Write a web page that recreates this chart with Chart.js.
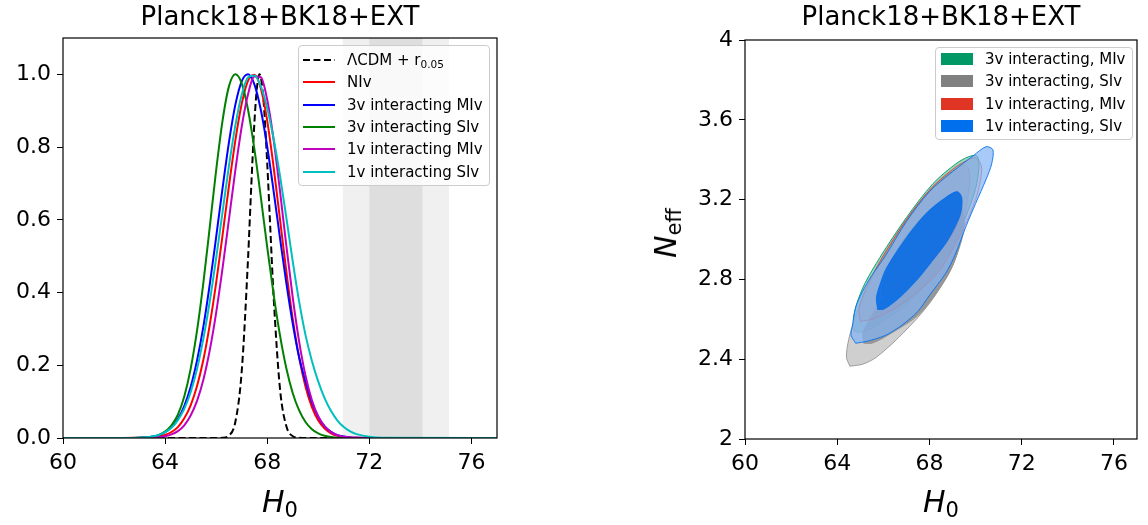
<!DOCTYPE html>
<html>
<head>
<meta charset="utf-8">
<script src="https://cdn.jsdelivr.net/npm/chart.js@4.4.1/dist/chart.umd.min.js"></script>
<style>
  body { margin: 0; background: #fff; font-family: 'DejaVu Sans', sans-serif; color: #000; }
  #page { position: relative; width: 1148px; height: 525px; overflow: hidden; }
  canvas { position: absolute; top: 0; }
  #pdfChart { left: 0; }
  #contourChart { left: 560px; }
  .title { position: absolute; top: 3px; font-size: 26px; line-height: 26px; text-align: center; white-space: nowrap; }
  .xlabel { position: absolute; top: 487px; font-size: 30px; line-height: 30px; text-align: center; white-space: nowrap; }
  .ylabel { position: absolute; left: 666px; top: 233px; font-size: 30px; line-height: 30px; white-space: nowrap;
            transform: translate(-50%, -50%) rotate(-90deg); }
  sub { font-size: 0.7em; vertical-align: -0.25em; line-height: 0; }
  .legend { position: absolute; background: rgba(255, 255, 255, 0.8); border: 1px solid #cccccc;
            border-radius: 4px; box-sizing: border-box; font-size: 15px; }
  .row { position: absolute; height: 22px; display: flex; align-items: center; white-space: nowrap; }
  .row svg, .row .patch { position: absolute; }
</style>
</head>
<body>
<div id="page">
  <canvas id="pdfChart" width="540" height="525"></canvas>
  <canvas id="contourChart" width="588" height="525"></canvas>

  <div class="title" style="left:63px;width:434px">Planck18+BK18+EXT</div>
  <div class="title" style="left:745px;width:392px">Planck18+BK18+EXT</div>
  <div class="xlabel" style="left:63px;width:434px"><i>H</i><sub>0</sub></div>
  <div class="xlabel" style="left:745px;width:392px"><i>H</i><sub>0</sub></div>
  <div class="ylabel"><i>N</i><sub>eff</sub></div>

  <div id="pdfLegend" class="legend" style="left:298px;top:45px;width:192px;height:141px"></div>
  <div id="contourLegend" class="legend" style="left:935px;top:47px;width:198px;height:93px"></div>
</div>

<script>
// ---- 1D posteriors of H0 (left panel) ----
const h0Grid = [60, 62, 63, 63.25, 63.5, 63.75, 64, 64.25, 64.5, 64.75, 65, 65.25, 65.5, 65.75, 66, 66.25,
  66.5, 66.75, 67, 67.25, 67.5, 67.75, 68, 68.25, 68.5, 68.75, 69, 69.25, 69.5, 69.75, 70, 70.25,
  70.5, 70.75, 71, 71.25, 71.5, 72.5, 77];

const pNIv = [0, 0, 0.0004, 0.0009, 0.002, 0.004, 0.0085, 0.0165, 0.030, 0.054, 0.090, 0.143, 0.216, 0.312,
  0.427, 0.558, 0.693, 0.818, 0.919, 0.983, 0.999, 0.961, 0.872, 0.745, 0.601, 0.457, 0.327, 0.221, 0.141,
  0.085, 0.048, 0.026, 0.013, 0.006, 0.003, 0.001, 0.0005, 0, 0];
const p3vMIv = [0, 0, 0.0008, 0.0019, 0.004, 0.008, 0.016, 0.030, 0.052, 0.088, 0.140, 0.213, 0.307, 0.423,
  0.553, 0.687, 0.813, 0.916, 0.981, 1.0, 0.972, 0.902, 0.801, 0.679, 0.550, 0.425, 0.314, 0.222, 0.155,
  0.098, 0.058, 0.032, 0.017, 0.008, 0.004, 0.0015, 0.0006, 0, 0];
const p3vSIv = [0, 0, 0.0005, 0.0013, 0.003, 0.008, 0.018, 0.035, 0.064, 0.114, 0.190, 0.295, 0.428, 0.581,
  0.737, 0.873, 0.967, 1.0, 0.975, 0.902, 0.793, 0.662, 0.524, 0.395, 0.282, 0.191, 0.123, 0.076, 0.044,
  0.024, 0.013, 0.006, 0.003, 0.001, 0.0006, 0.0002, 0.0001, 0, 0];
const p1vMIv = [0, 0, 0.0002, 0.0004, 0.001, 0.0023, 0.005, 0.010, 0.019, 0.035, 0.062, 0.102, 0.161, 0.242,
  0.345, 0.467, 0.601, 0.736, 0.856, 0.946, 0.994, 0.992, 0.930, 0.820, 0.679, 0.528, 0.386, 0.265, 0.171,
  0.104, 0.059, 0.032, 0.016, 0.0075, 0.0033, 0.0014, 0.0005, 0, 0];
const p1vSIv = [0, 0, 0.001, 0.002, 0.0043, 0.0084, 0.016, 0.028, 0.049, 0.080, 0.126, 0.190, 0.274, 0.376,
  0.495, 0.622, 0.748, 0.859, 0.944, 0.992, 0.997, 0.967, 0.907, 0.823, 0.721, 0.605, 0.485, 0.375, 0.283,
  0.212, 0.155, 0.109, 0.074, 0.048, 0.030, 0.018, 0.0106, 0.001, 0];

// LCDM + r is much narrower, so it gets its own grid
const lcdmH0 = [60, 65.5, 66, 66.25, 66.5, 66.75, 67, 67.25, 67.375, 67.5, 67.6, 67.7, 67.85, 68, 68.125,
  68.25, 68.5, 68.75, 69, 69.25, 69.5, 77];
const lcdmP = [0, 0, 0, 0.0007, 0.0068, 0.044, 0.183, 0.496, 0.694, 0.871, 0.966, 1.0, 0.932, 0.755, 0.569,
  0.389, 0.135, 0.032, 0.005, 0.0005, 0, 0];

const pdfNames = ['ΛCDM + r', 'NIv', '3v interacting MIv', '3v interacting SIv', '1v interacting MIv', '1v interacting SIv'];
const pdfSubs = ['0.05', '', '', '', '', ''];
const pdfColors = ['#000000', '#ff0000', '#0000ff', '#008000', '#bf00bf', '#00bfbf'];

// SH0ES H0 band, 68% and 95%
const shoesInner = [72.0, 74.08];
const shoesOuter = [70.96, 75.12];

const h0Ticks = [60, 64, 68, 72, 76];
const pdfTicks = [0, 0.2, 0.4, 0.6, 0.8, 1.0];
const neffTicks = [2, 2.4, 2.8, 3.2, 3.6, 4];

// ---- 2D contours H0 - Neff (right panel), [H0, Neff] outlines ----
const mi3Outer = [[64.75, 2.54], [64.7, 2.6], [64.85, 2.68], [65.2, 2.78], [65.85, 2.91], [67.0, 3.11], [68.15, 3.28],
  [69.15, 3.38], [69.7, 3.415], [70.05, 3.42], [70.15, 3.38], [70.05, 3.28], [69.85, 3.2], [69.3, 3.04], [68.3, 2.85],
  [67.5, 2.73], [66.85, 2.66], [66.0, 2.59], [65.4, 2.55], [65.0, 2.535], [64.75, 2.54]];
const mi3Inner = [[65.8, 2.7], [65.85, 2.76], [66.2, 2.87], [67.0, 3.02], [68.0, 3.15], [68.8, 3.22], [69.25, 3.23],
  [69.35, 3.16], [69.05, 3.04], [68.3, 2.92], [67.5, 2.82], [66.7, 2.74], [66.1, 2.69], [65.8, 2.7]];
const si3Outer = [[64.55, 2.365], [64.4, 2.41], [64.5, 2.5], [64.8, 2.62], [65.3, 2.76], [66.2, 2.95], [67.2, 3.13],
  [68.2, 3.27], [69.1, 3.35], [69.6, 3.37], [69.75, 3.3], [69.6, 3.17], [69.45, 3.05], [69.05, 2.88], [68.0, 2.68],
  [66.85, 2.53], [65.7, 2.41], [65.1, 2.375], [64.55, 2.365]];
const si3Inner = [[65.15, 2.48], [65.1, 2.53], [65.4, 2.6], [66.2, 2.74], [67.2, 2.9], [68.2, 3.05], [68.9, 3.16],
  [69.2, 3.2], [69.45, 3.15], [69.5, 3.06], [69.3, 2.96], [68.8, 2.82], [67.6, 2.63], [66.2, 2.52], [65.5, 2.48],
  [65.15, 2.48]];
const mi1Outer = [[65.0, 2.59], [64.95, 2.65], [65.2, 2.74], [65.9, 2.9], [67.0, 3.1], [68.1, 3.26], [69.1, 3.36],
  [69.7, 3.4], [70.0, 3.41], [70.25, 3.37], [70.2, 3.29], [70.0, 3.2], [69.45, 3.05], [68.4, 2.84], [67.5, 2.74],
  [66.85, 2.68], [66.1, 2.63], [65.5, 2.6], [65.0, 2.59]];
const mi1Inner = [[65.95, 2.72], [66.0, 2.78], [66.3, 2.87], [67.1, 3.02], [68.0, 3.14], [68.8, 3.21], [69.3, 3.23],
  [69.4, 3.16], [69.1, 3.05], [68.4, 2.93], [67.6, 2.83], [66.8, 2.76], [66.2, 2.72], [65.95, 2.72]];
const si1Outer = [[64.8, 2.48], [64.6, 2.52], [64.65, 2.56], [64.8, 2.66], [65.1, 2.74], [65.5, 2.82], [66.1, 2.92],
  [67.0, 3.09], [68.0, 3.24], [69.0, 3.34], [69.9, 3.42], [70.45, 3.465], [70.75, 3.45], [70.7, 3.38], [70.45, 3.3],
  [70.0, 3.18], [69.6, 3.07], [69.1, 2.92], [68.7, 2.83], [68.0, 2.72], [67.5, 2.64], [66.8, 2.57], [66.1, 2.52],
  [65.3, 2.49], [64.8, 2.48]];
const si1Inner = [[65.75, 2.65], [65.7, 2.71], [65.9, 2.79], [66.15, 2.86], [67.0, 3.01], [67.85, 3.13], [68.7, 3.21],
  [69.2, 3.24], [69.4, 3.21], [69.35, 3.13], [69.05, 3.05], [68.7, 2.98], [68.1, 2.89], [67.55, 2.81], [66.9, 2.73],
  [66.4, 2.68], [66.0, 2.65], [65.75, 2.65]];

const contourNames = ['3v interacting, MIv', '3v interacting, SIv', '1v interacting, MIv', '1v interacting, SIv'];
const contourColors = ['#009966', '#808080', '#E03424', '#006FED'];
// fills for the 95% and 68% regions, and the outline colour
const outerFills = ['rgba(0, 153, 102, 0.4)', 'rgba(175, 175, 175, 0.6)', 'rgba(224, 52, 36, 0.18)', 'rgba(130, 180, 245, 0.7)'];
const innerFills = ['rgba(0, 153, 102, 0.55)', 'rgba(128, 128, 128, 0.7)', 'rgba(224, 52, 36, 0.4)', 'rgba(0, 105, 230, 0.84)'];
const edgeColors = ['rgba(0, 153, 102, 0.9)', 'rgba(150, 150, 150, 0.9)', 'rgba(224, 52, 36, 0.8)', 'rgba(0, 111, 237, 0.85)'];

// ---- helpers ----
Chart.defaults.font.family = "'DejaVu Sans', sans-serif";
Chart.defaults.font.size = 22;
Chart.defaults.color = '#000';

function toPoints(xs, ys) {
  return xs.map((x, i) => ({ x, y: ys[i] }));
}

function makeScale(min, max, tickValues, format, fit) {
  return {
    type: 'linear',
    min,
    max,
    afterBuildTicks: (s) => { s.ticks = tickValues.map((v) => ({ value: v })); },
    afterFit: fit,
    grid: { drawOnChartArea: false, color: '#000', tickLength: 6, lineWidth: 1 },
    border: { display: false },
    ticks: { padding: 6, callback: format, maxRotation: 0, autoSkip: false }
  };
}

// black box round the axes
const framePlugin = {
  id: 'frame',
  afterDatasetsDraw(chart) {
    const { ctx, chartArea: a } = chart;
    ctx.save();
    ctx.strokeStyle = '#000';
    ctx.lineWidth = 1.2;
    ctx.strokeRect(a.left, a.top, a.right - a.left, a.bottom - a.top);
    ctx.restore();
  }
};

// grey SH0ES bands behind the curves
const bandsPlugin = {
  id: 'shoesBands',
  beforeDatasetsDraw(chart) {
    const { ctx, chartArea: a, scales: { x } } = chart;
    ctx.save();
    let l = x.getPixelForValue(shoesOuter[0]);
    let r = x.getPixelForValue(shoesOuter[1]);
    ctx.fillStyle = '#f0f0f0';
    ctx.fillRect(l, a.top, r - l, a.bottom - a.top);
    l = x.getPixelForValue(shoesInner[0]);
    r = x.getPixelForValue(shoesInner[1]);
    ctx.fillStyle = '#dedede';
    ctx.fillRect(l, a.top, r - l, a.bottom - a.top);
    ctx.restore();
  }
};

// ---- left panel ----
const pdfSeries = [
  toPoints(lcdmH0, lcdmP),
  toPoints(h0Grid, pNIv),
  toPoints(h0Grid, p3vMIv),
  toPoints(h0Grid, p3vSIv),
  toPoints(h0Grid, p1vMIv),
  toPoints(h0Grid, p1vSIv)
];

new Chart(document.getElementById('pdfChart'), {
  type: 'scatter',
  data: {
    datasets: pdfSeries.map((pts, i) => ({
      label: pdfNames[i],
      data: pts,
      showLine: true,
      pointRadius: 0,
      borderColor: pdfColors[i],
      borderWidth: 2,
      borderDash: i === 0 ? [7, 3.5] : [],
      cubicInterpolationMode: 'monotone',
      fill: false,
      order: pdfSeries.length - i
    }))
  },
  options: {
    responsive: false,
    animation: false,
    devicePixelRatio: 1,
    layout: { padding: { top: 38, right: 43, left: 0, bottom: 0 } },
    plugins: { legend: { display: false }, tooltip: { enabled: false } },
    scales: {
      x: makeScale(60, 77, h0Ticks, (v) => String(v), (s) => { s.height = 87; }),
      y: makeScale(0, 1.1, pdfTicks, (v) => v.toFixed(1), (s) => { s.width = 63; })
    }
  },
  plugins: [bandsPlugin, framePlugin]
});

// ---- right panel ----
const contourSets = [
  [mi3Outer, mi3Inner],
  [si3Outer, si3Inner],
  [mi1Outer, mi1Inner],
  [si1Outer, si1Inner]
];

const contourDatasets = [];
contourSets.forEach(([outer, inner], i) => {
  [[outer, outerFills[i]], [inner, innerFills[i]]].forEach(([pts, fillColor], k) => {
    contourDatasets.push({
      label: contourNames[i],
      data: pts.map(([x, y]) => ({ x, y })),
      showLine: true,
      pointRadius: 0,
      borderColor: edgeColors[i],
      borderWidth: 1,
      backgroundColor: fillColor,
      fill: 'shape',
      tension: 0.3,
      // later samples sit on top, 68% over 95%
      order: 100 - (i * 2 + k)
    });
  });
});

new Chart(document.getElementById('contourChart'), {
  type: 'scatter',
  data: { datasets: contourDatasets },
  options: {
    responsive: false,
    animation: false,
    devicePixelRatio: 1,
    layout: { padding: { top: 40, right: 11, left: 0, bottom: 0 } },
    plugins: { legend: { display: false }, tooltip: { enabled: false } },
    scales: {
      x: makeScale(60, 77, h0Ticks, (v) => String(v), (s) => { s.height = 86; }),
      y: makeScale(2, 4, neffTicks, (v) => String(+v.toFixed(1)), (s) => { s.width = 185; })
    }
  },
  plugins: [framePlugin]
});

// ---- legends (html so the subscripts stay real text) ----
const pdfLegend = document.getElementById('pdfLegend');
pdfNames.forEach((name, i) => {
  const row = document.createElement('div');
  row.className = 'row';
  row.style.top = (3 + i * 22.3) + 'px';
  row.style.left = '0px';
  row.style.width = '190px';
  const dash = i === 0 ? 'stroke-dasharray="7 3.5"' : '';
  row.innerHTML = `<svg width="32" height="4" style="left:4px;top:9px"><line x1="0" y1="2" x2="32" y2="2" stroke="${pdfColors[i]}" stroke-width="2" ${dash}/></svg>` +
    `<span style="position:absolute;left:48px">${name}${pdfSubs[i] ? '<sub>' + pdfSubs[i] + '</sub>' : ''}</span>`;
  pdfLegend.appendChild(row);
});

const contourLegend = document.getElementById('contourLegend');
contourNames.forEach((name, i) => {
  const row = document.createElement('div');
  row.className = 'row';
  row.style.top = (0 + i * 22.3) + 'px';
  row.style.left = '0px';
  row.style.width = '196px';
  row.innerHTML = `<div class="patch" style="left:5px;top:5px;width:32px;height:12px;background:${contourColors[i]}"></div>` +
    `<span style="position:absolute;left:49px">${name}</span>`;
  contourLegend.appendChild(row);
});
</script>
</body>
</html>
